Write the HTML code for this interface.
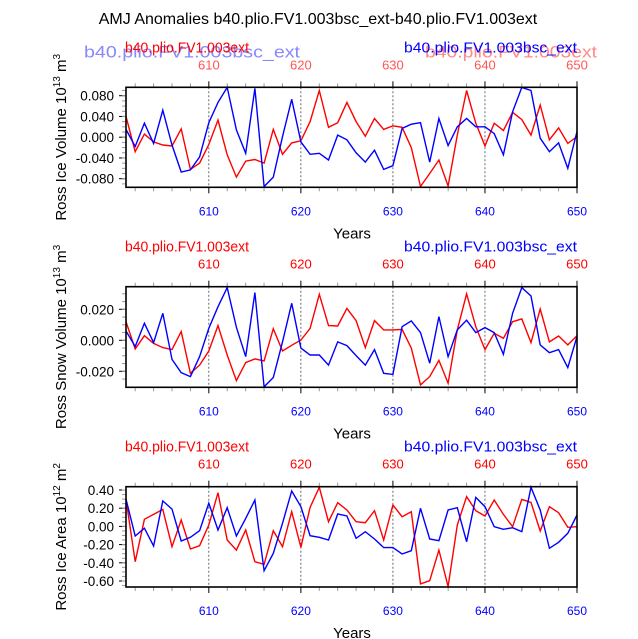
<!DOCTYPE html>
<html><head><meta charset="utf-8"><style>
html,body{margin:0;padding:0;background:#fff;width:638px;height:639px;overflow:hidden}
svg text{font-family:"Liberation Sans",sans-serif}
</style></head><body>
<svg id="chart" width="638" height="639" viewBox="0 0 638 639" xmlns="http://www.w3.org/2000/svg">
<text x="318" y="24" font-size="16" text-anchor="middle" fill="#000">AMJ Anomalies b40.plio.FV1.003bsc_ext-b40.plio.FV1.003ext</text>
</svg>
<script>
const years = [];
for (let y = 601; y <= 650; y++) years.push(y);
const xTicks = [610, 620, 630, 640, 650];

const iceVolBsc = [0.015,-0.018,0.027,-0.012,0.052,-0.015,-0.067,-0.063,-0.038,0.028,0.067,0.096,0.014,-0.031,0.094,-0.095,-0.077,0.001,0.073,-0.009,-0.033,-0.031,-0.044,0.004,-0.005,-0.030,-0.048,-0.025,-0.062,-0.055,0.017,0.025,0.028,-0.048,0.036,-0.016,0.020,0.036,0.020,0.020,0.007,-0.034,0.049,0.096,0.090,-0.002,-0.028,-0.011,-0.060,0.011];
const iceVolExt = [0.040,-0.028,0.006,-0.009,-0.015,-0.017,0.016,-0.062,-0.050,-0.014,0.033,-0.034,-0.077,-0.046,-0.043,-0.050,0.015,-0.033,-0.011,-0.007,0.030,0.090,0.019,0.028,0.067,0.030,0.002,0.036,0.015,0.022,0.019,-0.020,-0.095,-0.070,-0.044,-0.094,0.004,0.090,0.027,-0.017,0.027,0.013,0.048,0.034,0.004,0.062,-0.005,0.018,-0.012,0.001];
const iceVolTicks = [0.08,0.04,0,-0.04,-0.08];
const iceVolLabels = ["0.080","0.040","0.000","-0.040","-0.080"];

const snowBsc = [0.006,-0.004,0.011,-0.0015,0.0174,-0.0123,-0.0209,-0.0234,-0.0105,0.0077,0.0217,0.034,0.0084,-0.0105,0.0308,-0.030,-0.024,-0.001,0.0239,-0.005,-0.0095,-0.0095,-0.016,-0.001,-0.0034,-0.0099,-0.016,-0.006,-0.0213,-0.022,0.0088,0.0125,0.005,-0.0148,0.0153,-0.0105,0.0067,0.013,0.005,0.0082,0.005,-0.009,0.0174,0.034,0.0286,-0.003,-0.008,-0.006,-0.0176,0.0024];
const snowExt = [0.012,-0.0056,0.003,-0.002,-0.0047,-0.006,0.0056,-0.0213,-0.016,-0.0069,0.0095,-0.0095,-0.026,-0.0144,-0.012,-0.0133,0.0075,-0.0069,-0.0032,0.0002,0.0077,0.0297,0.0095,0.0092,0.0206,0.0127,-0.0047,0.0127,0.0067,0.0067,0.007,-0.005,-0.0288,-0.0234,-0.013,-0.0277,0.0067,0.030,0.0088,-0.006,0.0045,0.0013,0.012,0.0138,-0.0015,0.0202,-0.001,0.0028,-0.003,0.003];
const snowTicks = [0.02,0,-0.02];
const snowLabels = ["0.020","0.000","-0.020"];

const areaBsc = [0.30,-0.105,-0.02,-0.215,0.28,0.19,-0.16,-0.12,-0.047,0.255,-0.04,0.205,-0.105,0.088,0.29,-0.487,-0.296,0.034,0.389,0.217,-0.102,-0.12,-0.15,0.136,0.114,-0.131,-0.058,-0.138,-0.233,-0.233,-0.303,-0.267,0.199,-0.138,-0.157,0.18,0.205,-0.168,0.319,0.217,-0.003,-0.032,-0.014,-0.058,0.43,0.18,-0.241,-0.175,-0.076,0.125];
const areaExt = [0.30,-0.388,0.078,0.132,0.187,-0.223,0.07,-0.248,-0.212,0.015,0.37,-0.15,-0.26,-0.04,-0.388,-0.418,-0.047,-0.223,0.162,-0.23,0.21,0.43,0.052,0.26,0.18,0.052,0.041,0.173,-0.15,0.235,0.107,0.162,-0.632,-0.597,-0.26,-0.662,0.015,0.327,0.173,0.114,0.29,0.132,-0.003,0.297,0.264,-0.051,0.217,0.151,-0.01,-0.003];
const areaTicks = [0.4,0.2,0,-0.2,-0.4,-0.6];
const areaLabels = ["0.40","0.20","0.00","-0.20","-0.40","-0.60"];

const svg = document.getElementById('chart');
const NS = 'http://www.w3.org/2000/svg';
function mk(tag, attrs, parent) {
  const e = document.createElementNS(NS, tag);
  for (const k in attrs) e.setAttribute(k, attrs[k]);
  (parent || svg).appendChild(e);
  return e;
}
const X0 = 126, X1 = 577;
function xs(yr) { return X0 + (yr - 601) * (X1 - X0) / 49; }

function panel(p) {
  const g = mk('g', {});
  
  
  const ys = v => p.zeroY - v * p.scale;
  if (p.faint) {
    const f1 = mk('text', {x: 84, y: p.top - 30, 'font-size': 17, fill: '#8888ff', textLength: 216, lengthAdjust: 'spacingAndGlyphs'}, g);
    f1.textContent = 'b40.plio.FV1.003bsc_ext';
    
    
    const f2 = mk('text', {x: 425, y: p.top - 30, 'font-size': 17, fill: '#ff8888', textLength: 172, lengthAdjust: 'spacingAndGlyphs'}, g);
    f2.textContent = 'b40.plio.FV1.003ext';
    
    
  }
  const lr = mk('text', {x: 125, y: p.top - 35, 'font-size': 14.5, fill: '#ff0000', textLength: 124, lengthAdjust: 'spacingAndGlyphs'}, g);
  lr.textContent = 'b40.plio.FV1.003ext';
  
  
  const lb = mk('text', {x: 404, y: p.top - 35, 'font-size': 14.5, fill: '#0000ff', textLength: 173, lengthAdjust: 'spacingAndGlyphs'}, g);
  lb.textContent = 'b40.plio.FV1.003bsc_ext';
  
  
  xTicks.forEach(t => {
    const tt = mk('text', {x: xs(t), y: p.top - 18, 'font-size': 13, fill: p.faint ? '#ff5555' : '#ff0000', 'text-anchor': 'middle'}, g);
    tt.textContent = t;
    
    
    const bt = mk('text', {x: xs(t), y: p.bottom + 28, 'font-size': 12, fill: '#0000ff', 'text-anchor': 'middle'}, g);
    bt.textContent = t;
    
    
  });
  for (let yr = 602; yr <= 650; yr += 2) {
    const maj = yr % 10 === 0;
    const c = maj ? '#000' : '#999';
    mk('line', {x1: xs(yr), x2: xs(yr), y1: p.top, y2: p.top - (maj ? 6 : 4), stroke: c, 'stroke-width': 1}, g);
    mk('line', {x1: xs(yr), x2: xs(yr), y1: p.bottom, y2: p.bottom + (maj ? 6 : 4), stroke: c, 'stroke-width': 1}, g);
  }
  [610, 620, 630, 640].forEach(t => {
    const gl = mk('line', {x1: xs(t), x2: xs(t), y1: p.top, y2: p.bottom, stroke: '#444', 'stroke-width': 0.8, 'stroke-dasharray': '2,2'}, g);
    
    
  });
  p.ticks.forEach((t, i) => {
    mk('line', {x1: X0, x2: X0 - 7, y1: ys(t), y2: ys(t), stroke: '#000', 'stroke-width': 1}, g);
    const yl = mk('text', {x: X0 - 12, y: ys(t) + 5, 'font-size': 13.5, fill: '#000', 'text-anchor': 'end'}, g);
    yl.textContent = p.labels[i];
    
    
  });
  const step = (p.ticks[0] - p.ticks[1]) / 4;
  for (let v = p.ticks[p.ticks.length - 1] - 4 * step; v < p.ticks[0] + 4 * step; v += step) {
    const y = ys(v);
    if (y > p.top + 0.5 && y < p.bottom - 0.5) mk('line', {x1: X0, x2: X0 - 4, y1: y, y2: y, stroke: '#999', 'stroke-width': 1}, g);
  }
  [[p.ext, '#ff0000', 'red-ext-line'], [p.bsc, '#0000ff', 'blue-bsc-line']].forEach(s => {
    const pts = s[0].map((v, i) => xs(years[i]).toFixed(1) + ',' + ys(v).toFixed(1)).join(' ');
    const pl = mk('polyline', {points: pts, fill: 'none', stroke: s[1], 'stroke-width': 1.4}, g);
    
    
  });
  const box = mk('rect', {x: X0, y: p.top, width: X1 - X0, height: p.bottom - p.top, fill: 'none', stroke: '#000', 'stroke-width': 1.6}, g);
  
  
  const xt = mk('text', {x: 352, y: p.bottom + 51, 'font-size': 15, fill: '#000', 'text-anchor': 'middle'}, g);
  xt.textContent = 'Years';
  
  
  const cy = (p.top + p.bottom) / 2;
  const yt = mk('text', {x: 0, y: 0, 'font-size': 15, fill: '#000', 'text-anchor': 'middle', transform: 'translate(66,' + cy + ') rotate(-90)'}, g);
  yt.innerHTML = p.title + ' 10<tspan dy="-6" font-size="10">' + p.exp + '</tspan><tspan dy="6"> m</tspan><tspan dy="-6" font-size="10">' + p.unitExp + '</tspan>';
  
  
}

panel({name: 'ice-volume-panel', top: 87.3, bottom: 187.3, zeroY: 137.2, scale: 518.75, bsc: iceVolBsc, ext: iceVolExt, ticks: iceVolTicks, labels: iceVolLabels, title: 'Ross Ice Volume', exp: '13', unitExp: '3', faint: true});
panel({name: 'snow-volume-panel', top: 286.7, bottom: 387.3, zeroY: 340.3, scale: 1550, bsc: snowBsc, ext: snowExt, ticks: snowTicks, labels: snowLabels, title: 'Ross Snow Volume', exp: '13', unitExp: '3', faint: false});
panel({name: 'ice-area-panel', top: 486.7, bottom: 587, zeroY: 526.4, scale: 91, bsc: areaBsc, ext: areaExt, ticks: areaTicks, labels: areaLabels, title: 'Ross Ice Area', exp: '12', unitExp: '2', faint: false});
</script>
</body></html>
